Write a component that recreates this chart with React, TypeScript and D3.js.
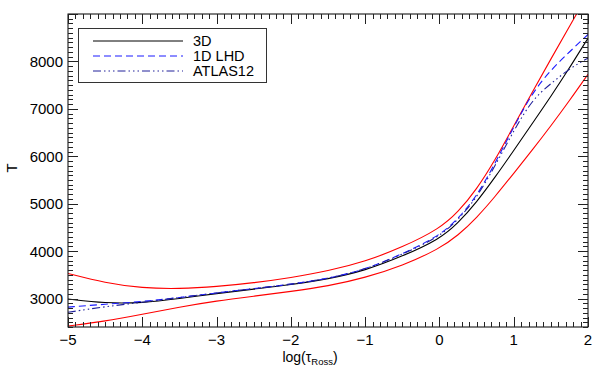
import React from "react";
import * as d3 from "d3";

// log(tau_Ross) grid shared by all curves
const logTau = [-5, -4.5, -4, -3.5, -3, -2.5, -2, -1.5, -1, -0.5, 0, 0.25, 0.5, 0.75, 1, 1.25, 1.5, 1.75, 2];

const t3D = [2990, 2900, 2905, 3000, 3105, 3200, 3290, 3410, 3590, 3890, 4250, 4590, 5030, 5560, 6120, 6690, 7260, 7860, 8490];
const t1DLHD = [2820, 2880, 2935, 3020, 3120, 3210, 3300, 3420, 3610, 3940, 4320, 4680, 5150, 5850, 6620, 7340, 7820, 8200, 8570];
const tAtlas = [2710, 2830, 2920, 3020, 3120, 3210, 3300, 3420, 3610, 3930, 4300, 4660, 5120, 5800, 6540, 7200, 7530, 7850, 8070];
const tUpper = [3530, 3330, 3220, 3205, 3250, 3330, 3440, 3580, 3780, 4080, 4470, 4820, 5300, 5920, 6640, 7350, 8050, 8740, 9420];
const tLower = [2420, 2520, 2670, 2820, 2950, 3050, 3150, 3260, 3440, 3690, 4050, 4330, 4700, 5150, 5640, 6130, 6640, 7170, 7730];

const xTicks = [-5, -4, -3, -2, -1, 0, 1, 2];
const yTicks = [3000, 4000, 5000, 6000, 7000, 8000];

const legendNames = ["3D", "1D LHD", "ATLAS12"];

const W = 598, H = 365;
const left = 68, right = 588, top = 14, bottom = 327;
const font = "'Liberation Sans', Arial, sans-serif";

export default function App() {
  const x = d3.scaleLinear().domain([-5, 2]).range([left, right]);
  const y = d3.scaleLinear().domain([2400, 9000]).range([bottom, top]);

  const line = (vals: number[]) =>
    d3.line<number>()
      .x((_, i) => x(logTau[i]))
      .y((d) => y(d))
      .curve(d3.curveBasis)(vals) || "";

  const xMinor = d3.range(-5, 2.0001, 0.1);
  const yMinor = d3.range(2400, 9000.1, 100);

  const series = [
    { vals: tUpper, color: "#ff0000", dash: "none" },
    { vals: tLower, color: "#ff0000", dash: "none" },
    { vals: t3D, color: "#000000", dash: "none" },
    { vals: t1DLHD, color: "#1a1aff", dash: "7,4" },
    { vals: tAtlas, color: "#20209a", dash: "8,3,1.5,3,1.5,3,1.5,3" },
  ];
  const legendStyles = [series[2], series[3], series[4]];

  return (
    <svg width={W} height={H} style={{ position: "absolute", left: 0, top: 0, background: "#fff" }}>
      <defs>
        <clipPath id="plot">
          <rect x={left} y={top} width={right - left} height={bottom - top} />
        </clipPath>
      </defs>

      <g clipPath="url(#plot)" fill="none">
        {series.map((s, i) => (
          <path key={i} d={line(s.vals)} stroke={s.color} strokeWidth={1.1} strokeDasharray={s.dash} />
        ))}
      </g>

      {/* frame */}
      <rect x={left} y={top} width={right - left} height={bottom - top} fill="none" stroke="#000" strokeWidth={1} />

      {/* ticks on all four sides */}
      <g stroke="#222" strokeWidth={1}>
        {xMinor.map((v, i) => {
          const major = Math.abs(v - Math.round(v)) < 1e-6;
          const len = major ? 10 : 5;
          const px = Math.round(x(v)) + 0.5;
          return (
            <g key={"xm" + i}>
              <line x1={px} x2={px} y1={bottom} y2={bottom - len} />
              <line x1={px} x2={px} y1={top} y2={top + len} />
            </g>
          );
        })}
        {yMinor.map((v, i) => {
          const major = Math.abs(v % 1000) < 1e-6;
          const len = major ? 10 : 5;
          const py = Math.round(y(v)) + 0.5;
          return (
            <g key={"ym" + i}>
              <line x1={left} x2={left + len} y1={py} y2={py} />
              <line x1={right} x2={right - len} y1={py} y2={py} />
            </g>
          );
        })}
      </g>

      {/* tick labels */}
      <g fontFamily={font} fontSize={15} fill="#000">
        {xTicks.map((v) => (
          <text key={"xl" + v} x={x(v)} y={345} textAnchor="middle">
            {v < 0 ? "\u2212" + Math.abs(v) : String(v)}
          </text>
        ))}
        {yTicks.map((v) => (
          <text key={"yl" + v} x={63} y={y(v) + 5.5} textAnchor="end">
            {v}
          </text>
        ))}
        <text x={310} y={362} textAnchor="middle" fontSize={14}>
          log(τ<tspan fontSize={9.5} dy={2.5}>Ross</tspan><tspan dy={-2.5}>)</tspan>
        </text>
        <text transform={`translate(17,168) rotate(-90)`} textAnchor="middle">T</text>
      </g>

      {/* legend */}
      <g>
        <rect x={78.5} y={28.5} width={188} height={54} fill="#fff" stroke="#333" strokeWidth={1} />
        {legendNames.map((name, i) => {
          const ly = 41 + i * 15;
          const s = legendStyles[i];
          return (
            <g key={name}>
              <line x1={93} x2={183} y1={ly} y2={ly} stroke={s.color} strokeWidth={1} strokeDasharray={s.dash} />
              <text x={193} y={ly + 5} fontFamily={font} fontSize={14.5} fill="#000">{name}</text>
            </g>
          );
        })}
      </g>
    </svg>
  );
}
